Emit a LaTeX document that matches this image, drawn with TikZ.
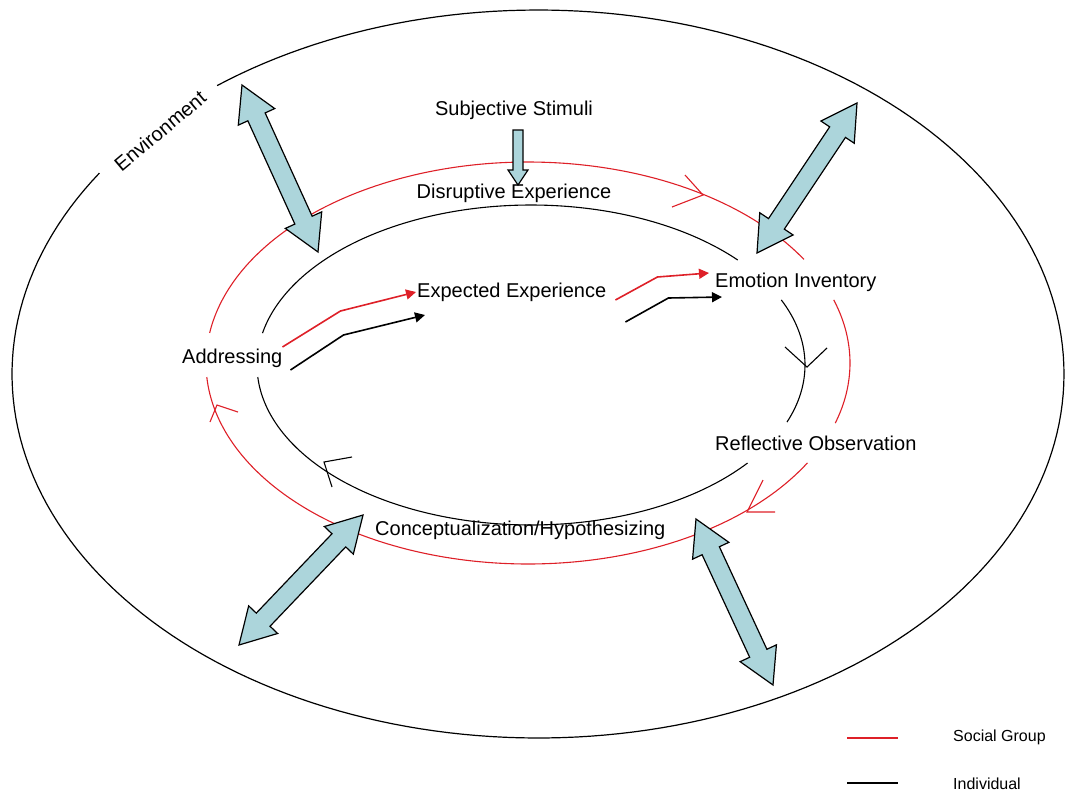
\documentclass[tikz,border=0pt]{standalone}
\usepackage{fontspec}
\setmainfont{Liberation Sans}
\usetikzlibrary{calc,arrows.meta}

\definecolor{socialred}{RGB}{222,32,40}
\definecolor{arrowfill}{RGB}{172,213,219}

\tikzset{
  stagelabel/.style={font=\fontsize{20}{24}\selectfont, inner sep=0pt},
  legendlabel/.style={font=\fontsize{16}{19}\selectfont, inner sep=0pt, anchor=west},
  envring/.style={draw=black, line width=1.2pt},
  socialring/.style={draw=socialred, line width=1.1pt},
  indring/.style={draw=black, line width=1.1pt},
  exchange/.style={draw=black, line width=1.2pt, fill=arrowfill, line join=miter},
  socialflow/.style={draw=socialred, line width=1.6pt, -{Triangle[length=10pt,width=10pt]}},
  indflow/.style={draw=black, line width=1.6pt, -{Triangle[length=10pt,width=10pt]}},
}

% two-headed arrow between two named points
\newcommand{\exchangearrow}[2]{%
  \path ($(#1)!35pt!(#2)$) coordinate (#1h) ($(#2)!35pt!(#1)$) coordinate (#2h);
  \filldraw[exchange] (#1) -- ($(#1h)!20pt!90:(#2)$) -- ($(#1h)!9.5pt!90:(#2)$)
    -- ($(#2h)!9.5pt!-90:(#1)$) -- ($(#2h)!20pt!-90:(#1)$) -- (#2)
    -- ($(#2h)!20pt!90:(#1)$) -- ($(#2h)!9.5pt!90:(#1)$)
    -- ($(#1h)!9.5pt!-90:(#2)$) -- ($(#1h)!20pt!-90:(#2)$) -- cycle;
}

\begin{document}
\begin{tikzpicture}[x=1pt,y=-1pt]

    \useasboundingbox (0,0) rectangle (1065,798);

    % environment ring, open where its label sits
    \draw[envring] plot[domain=232.4:573.5, samples=220, variable=\t] ({538+526*cos(\t)}, {374+364*sin(\t)});
    \node[stagelabel, rotate=40] (env) at (160,131) {Environment};

    % social group ring
    \draw[socialring] plot[domain=188.6:329, samples=120, variable=\t] ({528+322*cos(\t)}, {363+201*sin(\t)});
    \draw[socialring] plot[domain=341.7:377.4, samples=40, variable=\t] ({528+322*cos(\t)}, {363+201*sin(\t)});
    \draw[socialring] plot[domain=29.8:176, samples=120, variable=\t] ({528+322*cos(\t)}, {363+201*sin(\t)});
    \draw[socialring] (685,175) -- (703,195) -- (672,207);
    \draw[socialring] (775,512) -- (747,512) -- (763,480);
    \draw[socialring] (238,412) -- (217,405) -- (210,422);

    % individual ring
    \draw[indring] plot[domain=191.5:319, samples=120, variable=\t] ({531+274*cos(\t)}, {365+160*sin(\t)});
    \draw[indring] plot[domain=336:380.9, samples=40, variable=\t] ({531+274*cos(\t)}, {365+160*sin(\t)});
    \draw[indring] plot[domain=37.8:175.7, samples=120, variable=\t] ({531+274*cos(\t)}, {365+160*sin(\t)});
    \draw[indring] (785,347) -- (807,367) -- (827,348);
    \draw[indring] (352,457) -- (324,462) -- (332,487);

    \node[stagelabel] (stim) at (514,110) {Subjective Stimuli};
    \node[stagelabel] (disr) at (514,193) {Disruptive Experience};
    \node[stagelabel, anchor=west] (exp) at (417,292) {Expected Experience};
    \node[stagelabel, anchor=west] (emo) at (715,282) {Emotion Inventory};
    \node[stagelabel, anchor=west] (addr) at (182,358) {Addressing};
    \node[stagelabel, anchor=west] (refl) at (715,443) {Reflective Observation};
    \node[stagelabel, anchor=west] (conc) at (375,530) {Conceptualization/Hypothesizing};

    \draw[socialflow] ($(addr.east)+(0,-11)$) -- ++(58,-36) -- ($(exp.west)+(-1,0)$);
    \draw[indflow] ($(addr.east)+(8,12)$) -- ++(53,-35) -- ($(exp.west)+(8,23)$);
    \draw[socialflow] ($(exp.east)+(9,8)$) -- ++(42,-23) -- ($(emo.west)+(-6,-9)$);
    \draw[indflow] ($(exp.east)+(19,30)$) -- ++(43,-24) -- ($(emo.west)+(7,15)$);

    % stimulus arrow
    \coordinate (stimtop) at (513,130);
    \filldraw[exchange] (stimtop) -- ++(10,0) -- ++(0,40) -- ++(5,0) -- ++(-10,15) -- ++(-10,-15) -- ++(5,0) -- cycle;

    % exchanges with the environment
    \coordinate (tlout) at (242,85);  \coordinate (tlin) at (318,252);
    \coordinate (trout) at (857,103); \coordinate (trin) at (757,253);
    \coordinate (blin) at (363,515);  \coordinate (blout) at (239,645);
    \coordinate (brin) at (696,519);  \coordinate (brout) at (773,685);
    \exchangearrow{tlout}{tlin}
    \exchangearrow{trout}{trin}
    \exchangearrow{blin}{blout}
    \exchangearrow{brin}{brout}

    % legend
    \draw[socialring] (847,738) -- (898,738);
    \node[legendlabel] (social) at (953,737) {Social Group};
    \draw[indring] (847,783) -- (898,783);
    \node[legendlabel] (indiv) at (953,784) {Individual};

\end{tikzpicture}
\end{document}
